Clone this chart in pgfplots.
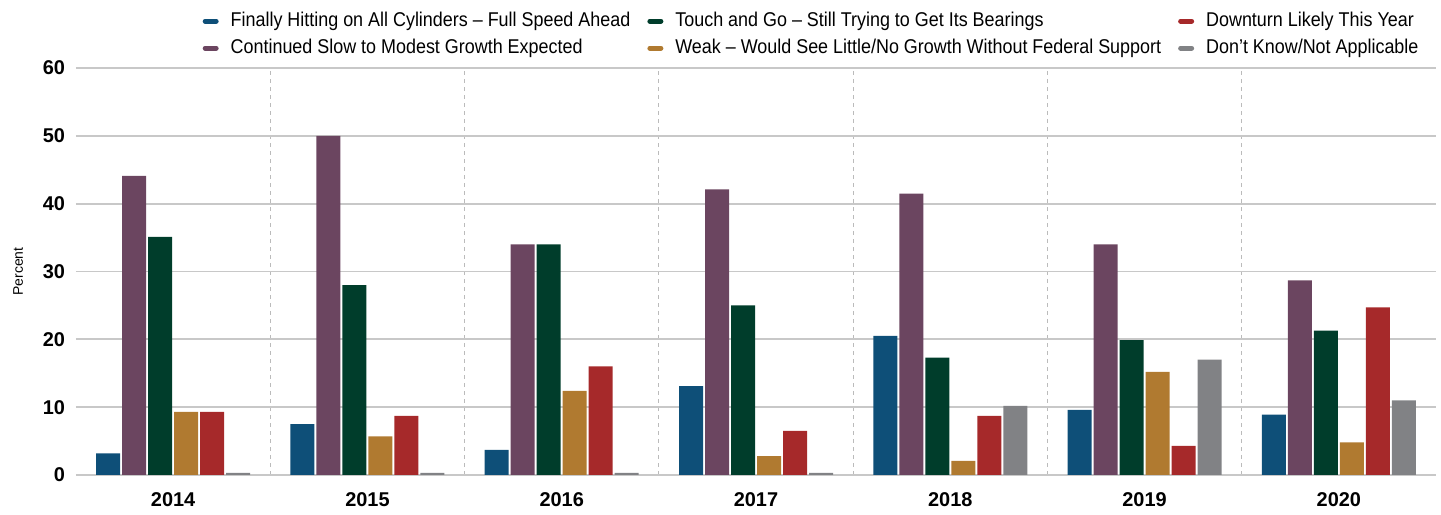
\documentclass[border=0pt]{standalone}
\usepackage{fontspec}
\setmainfont{Liberation Sans}
\newfontfamily\legfont[FakeStretch=0.9]{Liberation Sans}
\usepackage{pgfplots}
\pgfplotsset{compat=1.18}
\definecolor{cblue}{HTML}{0E4F78}
\definecolor{cpurple}{HTML}{6B4560}
\definecolor{cgreen}{HTML}{003D2B}
\definecolor{corange}{HTML}{B07A30}
\definecolor{cred}{HTML}{A6292A}
\definecolor{cgray}{HTML}{818285}
\definecolor{gridgray}{HTML}{C8C8C8}
\definecolor{divgray}{HTML}{BBBBBB}
\pgfplotsset{legbar/.style={legend image code/.code={\draw[line width=2.5bp, line cap=round, draw=#1] (0bp,0bp) -- (5.5bp,0bp);}}}
\begin{document}
\begin{tikzpicture}
\path[use as bounding box] (-38bp,-20bp) rectangle (682.5bp,237.5bp);
\begin{axis}[
 at={(0,0)}, anchor=south west,
 width=680bp, height=203.5bp, scale only axis,
 xmin=-0.5, xmax=6.5, ymin=0, ymax=60,
 ytick={0,10,20,30,40,50,60},
 xtick={0,1,2,3,4,5,6},
 xticklabels={2014,2015,2016,2017,2018,2019,2020},
 minor xtick={0.5,1.5,2.5,3.5,4.5,5.5},
 ymajorgrids, xminorgrids,
 major grid style={draw=gridgray, line width=0.9bp},
 minor grid style={draw=divgray, dash pattern=on 2bp off 2bp, line width=0.5bp},
 axis line style={draw=none},
 major tick length=0pt, minor tick length=0pt,
 tick label style={font=\fontsize{10}{12}\selectfont\bfseries},
 /pgf/number format/assume math mode=true,
 yticklabel style={xshift=-2bp},
 xticklabel style={yshift=-5.5bp},
 ylabel={Percent},
 ylabel style={font=\fontsize{7}{8}\selectfont, at={(axis description cs:-0.0426,0.5)}, anchor=center},
 ybar, bar width=12bp,
 legend columns=3,
 legend style={draw=none, fill=none, at={(rel axis cs:0.994,1)}, anchor=south east, yshift=1.5bp,
   font=\legfont\fontsize{10}{12}\selectfont,
   nodes={inner sep=1.5bp, text height=7.5bp, text depth=2bp},
   row sep=1bp, column sep=4.5bp,
   /tikz/every even column/.append style={column sep=7bp}},
 legend cell align=left,
]
\addplot[fill=cblue, draw=none, bar shift=-32.5bp, legbar=cblue] coordinates {(0,3.2) (1,7.5) (2,3.7) (3,13.1) (4,20.5) (5,9.6) (6,8.9)};
\addlegendentry{Finally Hitting on All Cylinders – Full Speed Ahead}
\addplot[fill=cgreen, draw=none, bar shift=-6.5bp, legbar=cgreen] coordinates {(0,35.1) (1,28) (2,34) (3,25) (4,17.3) (5,19.9) (6,21.3)};
\addlegendentry{Touch and Go – Still Trying to Get Its Bearings}
\addplot[fill=cred, draw=none, bar shift=19.5bp, legbar=cred] coordinates {(0,9.3) (1,8.7) (2,16) (3,6.5) (4,8.7) (5,4.3) (6,24.7)};
\addlegendentry{Downturn Likely This Year}
\addplot[fill=cpurple, draw=none, bar shift=-19.5bp, legbar=cpurple] coordinates {(0,44.1) (1,50) (2,34) (3,42.1) (4,41.5) (5,34) (6,28.7)};
\addlegendentry{Continued Slow to Modest Growth Expected}
\addplot[fill=corange, draw=none, bar shift=6.5bp, legbar=corange] coordinates {(0,9.3) (1,5.7) (2,12.4) (3,2.8) (4,2.1) (5,15.2) (6,4.8)};
\addlegendentry{Weak – Would See Little/No Growth Without Federal Support}
\addplot[fill=cgray, draw=none, bar shift=32.5bp, legbar=cgray] coordinates {(0,0.3) (1,0.3) (2,0.3) (3,0.3) (4,10.2) (5,17) (6,11)};
\addlegendentry{Don’t Know/Not Applicable}
\end{axis}
\end{tikzpicture}
\end{document}
